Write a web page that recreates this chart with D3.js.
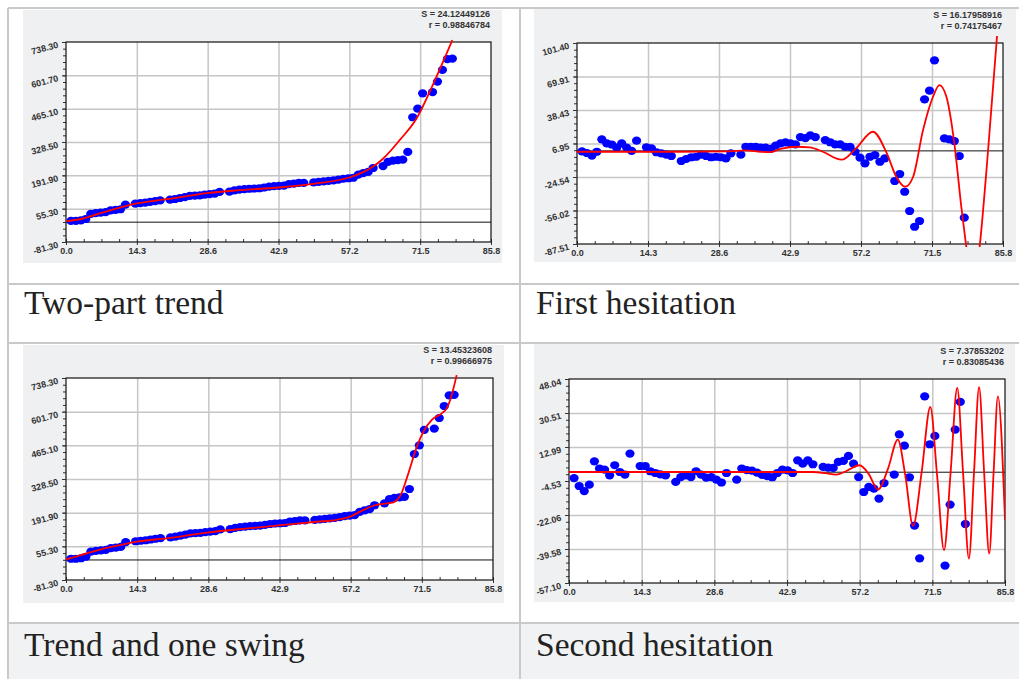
<!DOCTYPE html>
<html>
<head>
<meta charset="utf-8">
<title>Trend and hesitation fits</title>
<script src="https://cdn.jsdelivr.net/npm/d3@7/dist/d3.min.js"></script>
<style>
  body { margin: 0; background: #ffffff; }
  svg { display: block; }
  .axis text { font-family: "Liberation Sans", Arial, sans-serif; font-weight: bold; font-size: 9px; fill: #333; }
  .stat { font-family: "Liberation Sans", Arial, sans-serif; font-weight: bold; font-size: 9px; fill: #333; }
  .caption { font-family: "Liberation Serif", "Times New Roman", serif; font-size: 33.5px; fill: #222; }
</style>
</head>
<body>
<svg id="fig" width="1019" height="679"></svg>
<script>
// observation index (a few indices have no point)
var xValues = [1, 2, 3, 4, 5, 6, 7, 8, 9, 10, 11, 12,
    14, 15, 16, 17, 18, 19,
    21, 22, 23, 24, 25, 26, 27, 28, 29, 30, 31,
    33, 34, 35, 36, 37, 38, 39, 40, 41, 42, 43, 44, 45, 46, 47, 48,
    50, 51, 52, 53, 54, 55, 56, 57, 58, 59, 60, 61, 62,
    64, 65, 66, 67, 68, 69, 70, 71, 72,
    74, 75, 76, 77, 78];

// raw series (shown in "Two-part trend" and "Trend and one swing")
var trendValues = [5, 5, 7, 13, 34, 37, 39, 41, 48, 50, 53, 72,
    76, 78, 80, 83, 86, 89,
    92, 95, 99, 103, 108, 109, 110, 113, 115, 117, 124,
    125, 130, 133, 135, 137, 138, 139, 142, 146, 148, 149, 150, 156, 158, 161, 161,
    163, 165, 167, 169, 171, 174, 178, 180, 182, 195, 201, 206, 222,
    230, 247, 252, 254, 256, 288, 430, 465, 528,
    533, 576, 624, 668, 670];

// residuals after the two-part trend
var hesitation1Values = [-0.5, -2.0, -4.4, -0.8, 10.9, 7.0, 6.0, 3.0, 7.0, 3.0, 0.0, 9.6,
    3.4, 2.4, -1.3, -2.3, -3.6, -4.8,
    -9.5, -7.6, -6.0, -5.5, -3.6, -4.8, -6.0, -5.5, -6.0, -7.0, -2.3,
    -3.6, 3.9, 3.9, 3.9, 3.0, 3.0, 2.0, 5.0, 7.0, 8.0, 7.0, 6.2, 13.0, 12.0, 14.5, 13.0,
    10.2, 8.1, 6.2, 6.2, 3.9, 3.7, -0.8, -6.4, -11.7, -5.5, -3.9, -10.2, -7.0,
    -28.3, -21.7, -38.4, -56.5, -71.3, -65.9, 48.5, 56.6, 85.1,
    11.8, 10.9, 9.3, -4.8, -62.8];

// residuals after trend and one swing
var hesitation2Values = [-3.0, -7.1, -9.7, -6.4, 5.6, 1.9, 1.3, -1.6, 3.6, 0.1, -1.2, 9.6,
    3.2, 3.2, 0.5, -0.4, -1.1, -1.6,
    -5.0, -2.5, -1.6, -2.5, 0.5, -1.2, -2.8, -2.5, -3.8, -5.3, -0.4,
    -3.8, 1.9, 1.1, 0.8, -0.2, -1.4, -2.0, -2.6, -0.4, 1.3, 1.0, -0.4, 6.1, 4.4, 6.1, 4.1,
    2.7, 2.4, 2.2, 5.3, 5.8, 8.4, 4.4, -2.5, -10.2, -7.6, -8.5, -13.6, -5.6,
    -1.2, 19.5, 13.7, -2.6, -27.5, -44.4, 39.1, 14.4, 18.7,
    -48.1, -16.7, 21.9, 36.2, -26.7];

// fitted curves
var twoPartFitX = [0, 3.5, 7, 12, 14.3, 20.3, 28.5, 35, 42.9, 50.6, 57.2, 60, 62, 64, 67.4, 70.8, 74.2, 78];
var twoPartFitY = [4, 15, 37, 66, 77, 94, 119, 131, 142, 159, 183, 205, 228, 260, 337, 426, 569, 746];

var hesitation1FitX = [0, 10, 20, 30, 34, 37, 39, 41, 44.2, 46.9, 49.5, 53.3, 56.2, 59.6, 62.4, 64.3, 66.1, 67.7,
    69.7, 71.7, 73, 74.4, 76, 77.4, 78.4, 79.8, 81.1, 82.8, 84.6, 85.8];
var hesitation1FitY = [-0.8, -0.8, -0.8, -0.5, 0.5, -0.8, -1.2, 1.8, 3.9, 3.3, -0.8, -8.3, 2.4, 18, -2.3, -24.3, -33.7, -24.3,
    19.6, 50.9, 61.9, 50.9, 7.1, -52.5, -90, -135, -90, 0.8, 108, 190];

var swingFitX = [0, 4.2, 8, 11.9, 14.2, 20.2, 28.3, 37, 43.7, 50.4, 54.4, 57.1, 59.1, 61.7, 63.8, 65.8, 67.4, 68.8,
    70.5, 71.8, 73.5, 75.5, 76.5, 77.2, 78.5];
var swingFitY = [2, 27, 48, 65, 74, 88, 111, 129, 142, 155, 163, 176, 196, 220, 228, 234, 270, 352,
    460, 520, 568, 595, 615, 649, 750];

var hesitation2FitX = [0, 20, 40, 48, 50.5, 52.6, 54.5, 57.2, 59, 60.8, 62.8, 64.7, 66.2, 67.7, 69.4, 71.1, 72.45,
    73.8, 75.1, 76.4, 77.55, 78.7, 79.7, 80.7, 81.7, 82.7, 83.55, 84.4, 85.8];
var hesitation2FitY = [0.1, 0.1, 0.1, 0.1, -0.5, -1.2, 0.5, 3.6, -1, -9, 2, 16.8, -2, -27.7, 0, 33.6, -2,
    -40.2, 0, 43.4, -0.5, -44.5, -0.3, 43.9, -0.5, -41.9, -0.5, 39.1, -24.8];

// axis ticks
var xTicks = [0.0, 14.3, 28.6, 42.9, 57.2, 71.5, 85.8];
var trendTicks = [-81.30, 55.30, 191.90, 328.50, 465.10, 601.70, 738.30];
var hesitation1Ticks = [-87.51, -56.02, -24.54, 6.95, 38.43, 69.91, 101.40];
var hesitation2Ticks = [-57.10, -39.58, -22.06, -4.53, 12.99, 30.51, 48.04];

// fit statistics and captions
var twoPartStats = ['S = 24.12449126', 'r = 0.98846784'];
var hesitation1Stats = ['S = 16.17958916', 'r = 0.74175467'];
var swingStats = ['S = 13.45323608', 'r = 0.99666975'];
var hesitation2Stats = ['S = 7.37853202', 'r = 0.83085436'];
var captions = ['Two-part trend', 'First hesitation', 'Trend and one swing', 'Second hesitation'];

var svg = d3.select('#fig');

// table: shaded last row, cell borders
svg.append('rect').attr('x', 9).attr('y', 624).attr('width', 1010).attr('height', 55).attr('fill', '#f1f2f4');
var tableLines = [[8, 8, 1019, 8], [8, 284, 1019, 284], [8, 343, 1019, 343], [8, 623, 1019, 623],
    [8, 8, 8, 679], [520, 8, 520, 679]];
svg.append('g').selectAll('line').data(tableLines).join('line')
    .attr('x1', function (d) { return d[0]; })
    .attr('y1', function (d) { return d[1]; })
    .attr('x2', function (d) { return d[2]; })
    .attr('y2', function (d) { return d[3]; })
    .attr('stroke', '#c9c9c9')
    .attr('stroke-width', 2);

var panels = [
    { bg: [23, 10, 479, 253], box: [66, 42, 491, 242], yTicks: trendTicks, points: trendValues,
        fitX: twoPartFitX, fitY: twoPartFitY, stats: twoPartStats, caption: captions[0], cap: [24, 314] },
    { bg: [534, 9, 482, 253], box: [577, 43, 1003, 244], yTicks: hesitation1Ticks, points: hesitation1Values,
        fitX: hesitation1FitX, fitY: hesitation1FitY, stats: hesitation1Stats, caption: captions[1], cap: [536, 314] },
    { bg: [23, 345, 481, 258], box: [66, 378, 493, 580], yTicks: trendTicks, points: trendValues,
        fitX: swingFitX, fitY: swingFitY, stats: swingStats, caption: captions[2], cap: [24, 656] },
    { bg: [534, 344, 481, 258], box: [569, 379, 1005, 583], yTicks: hesitation2Ticks, points: hesitation2Values,
        fitX: hesitation2FitX, fitY: hesitation2FitY, stats: hesitation2Stats, caption: captions[3], cap: [536, 656] }
];

var drawPanel = function (p, idx) {
    var left = p.box[0], top = p.box[1], right = p.box[2], bottom = p.box[3];
    var x = d3.scaleLinear().domain([xTicks[0], xTicks[xTicks.length - 1]]).range([left, right]);
    var y = d3.scaleLinear().domain([p.yTicks[0], p.yTicks[p.yTicks.length - 1]]).range([bottom, top]);
    var g = svg.append('g');

    g.append('rect')
        .attr('x', p.bg[0]).attr('y', p.bg[1]).attr('width', p.bg[2]).attr('height', p.bg[3])
        .attr('fill', '#eff0f2');
    g.append('rect')
        .attr('x', left).attr('y', top).attr('width', right - left).attr('height', bottom - top)
        .attr('fill', '#ffffff');

    // grid
    g.append('g')
        .attr('transform', 'translate(0,' + bottom + ')')
        .call(d3.axisBottom(x).tickValues(xTicks.slice(1, -1)).tickSize(-(bottom - top)).tickFormat(''))
        .call(function (s) { s.select('.domain').remove(); })
        .selectAll('line').attr('stroke', '#c6c6c6').attr('stroke-width', 1.5);
    g.append('g')
        .attr('transform', 'translate(' + left + ',0)')
        .call(d3.axisLeft(y).tickValues(p.yTicks.slice(1, -1)).tickSize(-(right - left)).tickFormat(''))
        .call(function (s) { s.select('.domain').remove(); })
        .selectAll('line').attr('stroke', '#c6c6c6').attr('stroke-width', 1.5);

    // zero line
    g.append('line')
        .attr('x1', left).attr('x2', right).attr('y1', y(0)).attr('y2', y(0))
        .attr('stroke', '#111').attr('stroke-width', 1);

    // minor ticks
    var xd = x.domain(), yd = y.domain();
    var xMinor = d3.range(0, 25).map(function (i) { return xd[0] + i * (xd[1] - xd[0]) / 24; });
    var yMinor = d3.range(0, 31).map(function (i) { return yd[0] + i * (yd[1] - yd[0]) / 30; });
    g.append('g')
        .attr('transform', 'translate(0,' + bottom + ')')
        .call(d3.axisBottom(x).tickValues(xMinor).tickSize(-3).tickFormat(''))
        .call(function (s) { s.select('.domain').remove(); })
        .selectAll('line').attr('stroke', '#333');
    g.append('g')
        .attr('transform', 'translate(' + left + ',0)')
        .call(d3.axisLeft(y).tickValues(yMinor).tickSize(3).tickFormat(''))
        .call(function (s) { s.select('.domain').remove(); })
        .selectAll('line').attr('stroke', '#333');

    // frame
    g.append('rect')
        .attr('x', left).attr('y', top).attr('width', right - left).attr('height', bottom - top)
        .attr('fill', 'none').attr('stroke', '#111').attr('stroke-width', 1.2);

    // axes with labels
    var xAxis = g.append('g').attr('class', 'axis')
        .attr('transform', 'translate(0,' + bottom + ')')
        .call(d3.axisBottom(x).tickValues(xTicks).tickSize(3).tickPadding(3)
            .tickFormat(function (d) { return d.toFixed(1); }));
    xAxis.attr('font-size', null).attr('font-family', null);
    xAxis.select('.domain').remove();
    xAxis.selectAll('line').attr('stroke', '#333');

    var yAxis = g.append('g').attr('class', 'axis')
        .attr('transform', 'translate(' + left + ',0)')
        .call(d3.axisLeft(y).tickValues(p.yTicks).tickSize(4)
            .tickFormat(function (d) { return d.toFixed(2); }));
    yAxis.attr('font-size', null).attr('font-family', null);
    yAxis.select('.domain').remove();
    yAxis.selectAll('line').attr('stroke', '#333');
    yAxis.selectAll('text')
        .attr('x', -8).attr('y', 2).attr('dy', '0.35em')
        .attr('text-anchor', 'end')
        .attr('transform', 'rotate(-15,-8,2)');

    // data points
    g.append('g').selectAll('ellipse').data(p.points).join('ellipse')
        .attr('cx', function (d, i) { return x(xValues[i]); })
        .attr('cy', function (d) { return y(d); })
        .attr('rx', 4.6).attr('ry', 4.1)
        .attr('fill', '#0000ff');

    // fitted curve
    var clipId = 'plotclip' + idx;
    svg.append('clipPath').attr('id', clipId).append('rect')
        .attr('x', left).attr('y', top - 7).attr('width', right - left).attr('height', bottom - top + 10);
    var fit = p.fitX.map(function (v, i) { return [v, p.fitY[i]]; });
    g.append('path').datum(fit)
        .attr('clip-path', 'url(#' + clipId + ')')
        .attr('d', d3.line()
            .x(function (d) { return x(d[0]); })
            .y(function (d) { return y(d[1]); })
            .curve(d3.curveMonotoneX))
        .attr('fill', 'none').attr('stroke', '#ff0000').attr('stroke-width', 1.8);

    // statistics
    g.append('text').attr('class', 'stat').attr('x', right - 1).attr('y', top - 25.5)
        .attr('text-anchor', 'end').text(p.stats[0]);
    g.append('text').attr('class', 'stat').attr('x', right - 1).attr('y', top - 14)
        .attr('text-anchor', 'end').text(p.stats[1]);

    // caption below the chart
    svg.append('text').attr('class', 'caption').attr('x', p.cap[0]).attr('y', p.cap[1]).text(p.caption);
};

panels.forEach(drawPanel);
</script>
</body>
</html>
